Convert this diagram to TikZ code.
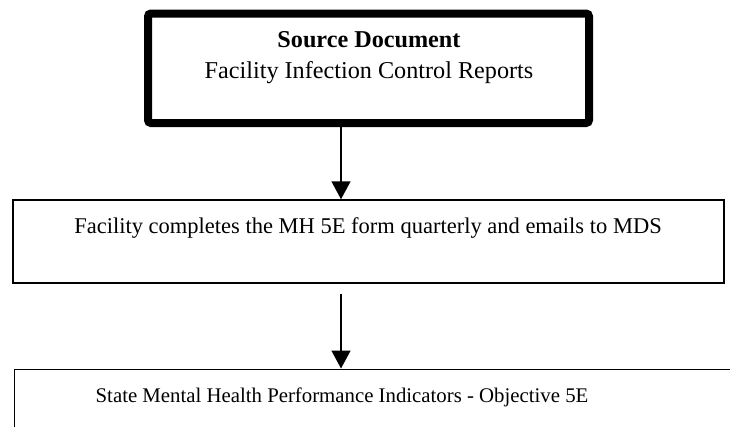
\documentclass[tikz,border=0pt]{standalone}
\usepackage{fontspec}
\setmainfont{Liberation Serif}
\usetikzlibrary{arrows.meta,calc}
\begin{document}
\begin{tikzpicture}[x=1pt,y=-1pt,
  srcbox/.style={draw=black,line width=8pt,rounded corners=3pt,minimum width=441pt,minimum height=109.5pt,inner sep=0pt},
  stepbox/.style={draw=black,line width=1.5pt,minimum width=711pt,minimum height=83pt,inner sep=0pt},
  lbl/.style={inner sep=0pt},
  arr/.style={line width=1.5pt,-{Triangle[width=19pt,length=18pt]}}]
\useasboundingbox (0,0) rectangle (730,426);
\node[srcbox] (box1) at (368.5,68.25) {};
\node[lbl,font=\fontsize{24.2}{28}\selectfont\bfseries] (t1a) at (369,40) {Source Document};
\node[lbl,font=\fontsize{24.2}{28}\selectfont] (t1b) at (369,73) {Facility Infection Control Reports};
\node[stepbox] (box2) at (368.5,241.5) {};
\node[lbl,font=\fontsize{22.5}{26}\selectfont] (t2) at (368,228) {Facility completes the MH 5E form quarterly and emails to MDS};
\node[draw=black,line width=1.5pt,minimum width=760pt,minimum height=120pt,inner sep=0pt,anchor=north west] (box3) at (13.5,368.5) {};
\node[lbl,font=\fontsize{20.8}{25}\selectfont] (t3) at (342,397) {State Mental Health Performance Indicators - Objective 5E};
\coordinate (ax) at (341,0);
\draw[arr] (box1.south -| ax) -- (box2.north -| ax);
\draw[arr,shorten <=10pt] (box2.south -| ax) -- (box3.north -| ax);
\end{tikzpicture}
\end{document}
